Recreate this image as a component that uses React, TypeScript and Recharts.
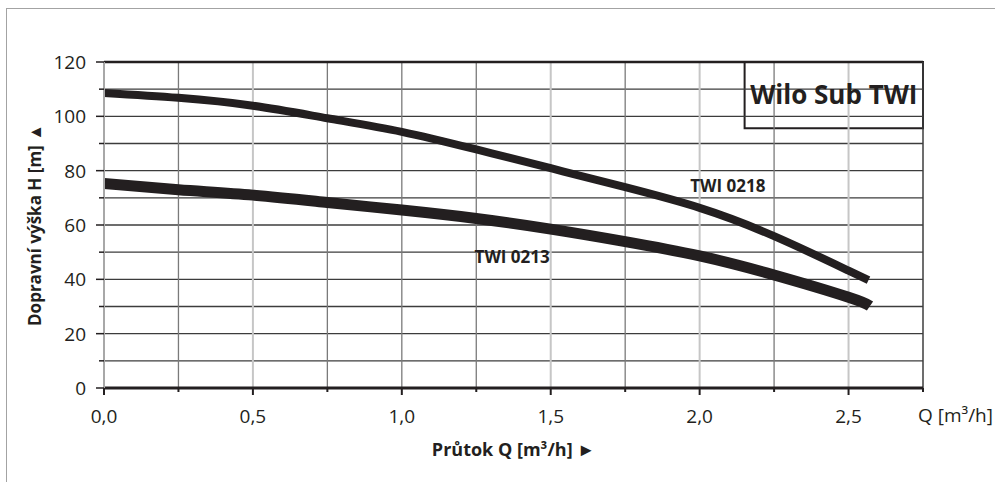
import React from 'react';
import { LineChart, Line, XAxis, YAxis, ReferenceLine, ReferenceArea, Label } from 'recharts';

// flow axis (m3/h) and head axis (m)
const flowTicks = [0, 0.25, 0.5, 0.75, 1.0, 1.25, 1.5, 1.75, 2.0, 2.25, 2.5, 2.75];
const headTicks = [0, 10, 20, 30, 40, 50, 60, 70, 80, 90, 100, 110, 120];
const lightFlowLines = [0.5, 1.5, 2.0, 2.5];

// pump curves
const twi0218Flow = [0, 0.25, 0.5, 0.75, 1.0, 1.25, 1.5, 1.75, 2.0, 2.25, 2.5, 2.567];
const twi0218Head = [108.6, 106.8, 103.9, 99.3, 94.3, 87.8, 80.9, 73.9, 66.3, 55.9, 43.2, 39.7];
const twi0213Flow = [0, 0.25, 0.5, 0.75, 1.0, 1.25, 1.5, 1.75, 2.0, 2.25, 2.5, 2.572];
const twi0213Head = [75.3, 73.0, 71.0, 68.3, 65.5, 62.4, 58.5, 53.9, 48.6, 41.6, 33.4, 30.2];

const twi0218 = twi0218Flow.map((q, i) => ({ q, h: twi0218Head[i] }));
const twi0213 = twi0213Flow.map((q, i) => ({ q, h: twi0213Head[i] }));

const FONT = '"Open Sans", sans-serif';
const INK = '#231f20';

const fmtFlow = (v: number) => v.toFixed(1).replace('.', ',');

function FlowTick({ x, y, payload }: any) {
  const v = payload.value;
  const major = Math.abs(v * 2 - Math.round(v * 2)) < 1e-6 && v < 2.7;
  return (
    <g>
      <line x1={x} x2={x} y1={y} y2={y + (major ? 7 : 4)} stroke={INK} strokeWidth={2} />
      {major && (
        <text x={x} y={y + 35} textAnchor="middle" fontSize={19} fill={INK} fontFamily={FONT}>
          {fmtFlow(v)}
        </text>
      )}
    </g>
  );
}

function HeadTick({ x, y, payload }: any) {
  const v = payload.value;
  const major = v % 20 === 0;
  return (
    <g>
      <line x1={x - (major ? 8 : 5)} x2={x} y1={y} y2={y} stroke={INK} strokeWidth={1.5} />
      {major && (
        <text x={x - 18} y={y + 7} textAnchor="end" fontSize={19} fill={INK} fontFamily={FONT}>
          {v}
        </text>
      )}
    </g>
  );
}

export default function App() {
  return (
    <div style={{ position: 'absolute', left: 0, top: 0, width: 995, height: 482, background: '#fff' }}>
      <div
        style={{
          position: 'absolute',
          left: 6,
          top: 8,
          right: 0,
          bottom: -10,
          borderLeft: '1.5px solid #a3a3a3',
          borderTop: '1.5px solid #a3a3a3',
        }}
      />
      <LineChart
        width={995}
        height={482}
        margin={{ top: 62, right: 72, bottom: 0, left: 0 }}
        style={{ position: 'absolute', left: 0, top: 0 }}
      >
        <XAxis
          type="number"
          dataKey="q"
          domain={[0, 2.75]}
          ticks={flowTicks}
          interval={0}
          height={94}
          tickSize={0}
          tickMargin={0}
          tick={<FlowTick />}
          axisLine={{ stroke: INK, strokeWidth: 3 }}
          tickLine={false}
          allowDataOverflow
        >
          <Label
            content={({ viewBox }: any) => (
              <g fontFamily={FONT}>
                <text
                  x={viewBox.x + viewBox.width / 2}
                  y={viewBox.y + 68}
                  textAnchor="middle"
                  fontSize={18}
                  fontWeight={700}
                  fill={INK}
                >
                  Průtok Q [m³/h] ►
                </text>
                <text x={viewBox.x + viewBox.width - 5} y={viewBox.y + 34} fontSize={19} fill={INK}>
                  Q [m³/h]
                </text>
              </g>
            )}
          />
        </XAxis>
        <YAxis
          type="number"
          domain={[0, 120]}
          ticks={headTicks}
          interval={0}
          width={104}
          tickSize={0}
          tickMargin={0}
          tick={<HeadTick />}
          axisLine={{ stroke: '#a8a8a8', strokeWidth: 2 }}
          tickLine={false}
        >
          <Label
            content={({ viewBox }: any) => {
              const cx = viewBox.x + 34;
              const cy = viewBox.y + viewBox.height / 2;
              return (
                <text
                  x={cx}
                  y={cy}
                  transform={`rotate(-90 ${cx} ${cy})`}
                  textAnchor="middle"
                  dominantBaseline="central"
                  fontSize={17}
                  fontWeight={700}
                  fill={INK}
                  fontFamily={FONT}
                >
                  Dopravní výška H [m] ▲
                </text>
              );
            }}
          />
        </YAxis>

        {headTicks
          .filter((v) => v > 0 && v < 120)
          .map((v) => (
            <ReferenceLine key={'h' + v} y={v} stroke="#3c3c3c" strokeWidth={1.3} />
          ))}
        {flowTicks
          .filter((v) => v > 0 && v < 2.75)
          .map((v) => (
            <ReferenceLine
              key={'q' + v}
              x={v}
              stroke={lightFlowLines.includes(v) ? '#c6c6c6' : '#7a7a7a'}
              strokeWidth={lightFlowLines.includes(v) ? 2 : 1.3}
            />
          ))}
        <ReferenceLine y={120} stroke={INK} strokeWidth={2.5} />
        <ReferenceLine x={2.75} stroke="#3c3c3c" strokeWidth={1.5} />

        <ReferenceArea
          x1={1.94}
          x2={2.249}
          y1={69.6}
          y2={79.2}
          fill="#fff"
          fillOpacity={1}
          stroke="none"
          label={{ value: 'TWI 0218', position: 'center', fontSize: 17, fontWeight: 700, fill: INK, fontFamily: FONT }}
        />
        <ReferenceArea
          x1={1.213}
          x2={1.528}
          y1={43.4}
          y2={53.4}
          fill="#fff"
          fillOpacity={1}
          stroke="none"
          label={{ value: 'TWI 0213', position: 'center', fontSize: 17, fontWeight: 700, fill: INK, fontFamily: FONT }}
        />

        <Line
          data={twi0218}
          dataKey="h"
          type="natural"
          stroke={INK}
          strokeWidth={8}
          dot={false}
          activeDot={false}
          isAnimationActive={false}
        />
        <Line
          data={twi0213}
          dataKey="h"
          type="natural"
          stroke={INK}
          strokeWidth={11}
          dot={false}
          activeDot={false}
          isAnimationActive={false}
        />

        <ReferenceArea
          x1={2.151}
          x2={2.75}
          y1={95.6}
          y2={120}
          fill="#fff"
          fillOpacity={1}
          stroke={INK}
          strokeWidth={2}
          label={{ value: 'Wilo Sub TWI', position: 'center', fontSize: 26, fontWeight: 700, fill: INK, fontFamily: FONT }}
        />
      </LineChart>
    </div>
  );
}
